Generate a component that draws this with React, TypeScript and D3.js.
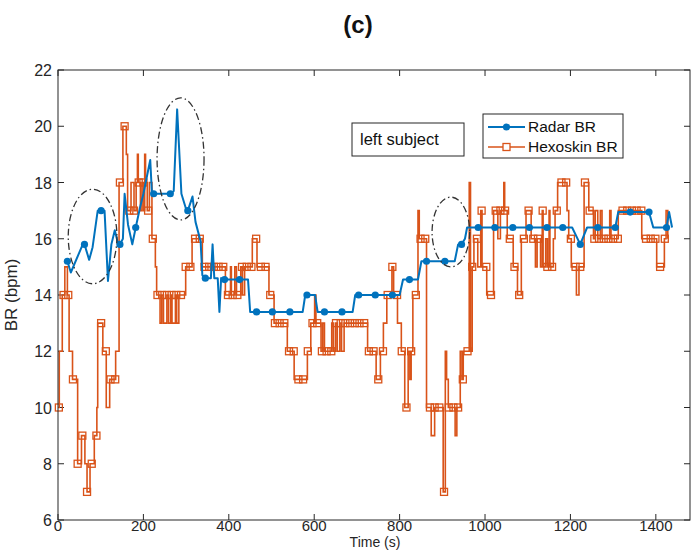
import React from "react";
import * as d3 from "d3";

const xTicks = [0, 200, 400, 600, 800, 1000, 1200, 1400];
const yTicks = [6, 8, 10, 12, 14, 16, 18, 20, 22];

const radarT = [22,30,58,62,73,81,93,101,109,117,125,133,141,145,152,156,164,174,182,192,200,216,220,224,263,271,279,289,299,304,315,322,334,338,345,358,362,366,374,378,382,390,425,445,450,465,502,543,573,579,583,602,608,624,665,690,696,704,743,783,800,808,823,843,851,863,906,929,937,945,953,958,984,1023,1065,1104,1145,1182,1204,1223,1239,1264,1305,1312,1340,1384,1394,1425,1431,1438];
const radarV = [15.2,14.8,15.8,15.8,15.25,15.7,17.0,17.0,17.0,14.5,15.8,16.3,15.8,15.8,16.0,17.6,16.5,15.8,16.4,17.1,17.6,18.8,17.6,17.6,17.6,17.7,20.6,17.6,17.1,17.0,17.5,16.6,15.9,14.7,14.6,14.6,15.8,14.6,14.6,13.4,14.6,14.55,14.55,14.55,13.4,13.4,13.4,13.4,13.4,14.0,14.0,14.0,13.4,13.4,13.4,13.4,14.0,14.0,14.0,14.0,14.0,14.55,14.55,14.55,15.2,15.2,15.2,15.2,15.8,15.8,16.0,16.4,16.4,16.4,16.4,16.4,16.4,16.4,16.4,15.8,16.4,16.4,16.4,16.95,16.95,16.95,16.4,16.4,16.95,16.4];
const radarMarkT = [22,62,101,145,182,224,263,304,345,390,425,465,502,543,583,624,665,704,743,783,823,863,906,945,984,1023,1065,1104,1145,1182,1223,1264,1305,1340,1384,1425];

const hexT = [0,3,10,16,22,26,34,46,55,63,68,75,85,91,93,105,113,121,135,143,152,160,163,171,178,183,186,188,193,197,201,203,205,209,214,220,228,231,239,243,247,255,259,264,267,275,278,283,299,314,338,392,404,406,414,418,428,432,437,455,466,494,506,537,553,584,592,601,604,616,620,624,641,645,650,654,660,664,670,725,745,755,762,770,782,786,795,804,812,820,824,827,831,843,846,863,874,882,902,907,910,914,930,934,942,946,949,963,966,970,974,983,990,993,1004,1020,1030,1036,1044,1046,1052,1066,1076,1085,1096,1108,1118,1122,1130,1134,1136,1142,1146,1150,1152,1160,1164,1170,1192,1196,1202,1214,1220,1232,1243,1254,1258,1264,1270,1274,1292,1295,1312,1339,1367,1402,1420,1424,1428];
const hexV = [10,12,14,15,14,12,11,8,9,8,7,8,9,10,13,12,10,11,12,18,20,19,17,18,17,18,19,18,17,18,17,19,18,17,18,16,15,14,13,14,13,14,13,14,13,14,13,14,15,16,15,14,15,14,15,14,15,14,15,16,15,14,13,12,11,12,13,14,13,12,13,12,13,12,13,12,13,12,13,12,11,12,13,14,15,14,13,12,10,12,11,12,14,17,16,10,9,10,7,12,11,10,9,10,12,11,12,18,12,15,16,15,17,15,14,17,16,17,18,17,16,15,14,16,17,16,15,16,15,17,15,16,15,17,15,16,17,18,17,16,15,14,15,18,17,16,17,16,17,16,17,16,17,17,16,15,16,17,16,16];
const hexMarkStep = 11;

// annotation ellipses: centre time, centre BR, half-width (s), half-height (bpm)
const ellCx = [81, 287, 920];
const ellCy = [16.08, 18.84, 16.24];
const ellRx = [57, 55, 44];
const ellRy = [1.68, 2.17, 1.24];

const BLUE = "#0072BD";
const ORANGE = "#D95319";
const AXC = "#262626";
const FONT = "'Liberation Sans', Arial, Helvetica, sans-serif";

export default function App() {
  const W = 697, H = 550;
  const L = 58, R = 690, T = 70, B = 520;
  const x = d3.scaleLinear().domain([0, 1480]).range([L, R]);
  const y = d3.scaleLinear().domain([6, 22]).range([B, T]);

  const radarPts = radarT.map((t, i) => [t, radarV[i]] as [number, number]);
  const hexPts = hexT.map((t, i) => [t, hexV[i]] as [number, number]);

  const radarLine = d3.line<[number, number]>().x(d => x(d[0])).y(d => y(d[1]));
  const hexLine = d3.line<[number, number]>().x(d => x(d[0])).y(d => y(d[1])).curve(d3.curveStepAfter);

  const radarMarks = radarPts.filter(p => radarMarkT.includes(p[0]));
  const hexMarks: [number, number][] = [];
  for (let t = 2; t <= hexT[hexT.length - 1]; t += hexMarkStep) {
    const i = d3.bisectRight(hexT, t) - 1;
    hexMarks.push([t, hexV[Math.max(0, i)]]);
  }

  const tl = 6;
  return (
    <svg width={W} height={H} style={{ position: "absolute", left: 0, top: 0, background: "#fff" }} fontFamily={FONT}>
      <rect x={0} y={0} width={W} height={H} fill="#fff" />
      <text x={358} y={33} textAnchor="middle" fontSize={24} fontWeight="bold" fill="#111">(c)</text>

      {/* ticks */}
      {xTicks.map(t => (
        <g key={"xt" + t}>
          <line x1={x(t)} x2={x(t)} y1={B} y2={B - tl} stroke={AXC} />
          <line x1={x(t)} x2={x(t)} y1={T} y2={T + tl} stroke={AXC} />
          <text x={x(t)} y={531} textAnchor="middle" fontSize={15} fill={AXC}>{t}</text>
        </g>
      ))}
      {yTicks.map(v => (
        <g key={"yt" + v}>
          <line x1={L} x2={L + tl} y1={y(v)} y2={y(v)} stroke={AXC} />
          <line x1={R} x2={R - tl} y1={y(v)} y2={y(v)} stroke={AXC} />
          <text x={L - 6} y={y(v) + 6} textAnchor="end" fontSize={16} fill={AXC}>{v}</text>
        </g>
      ))}
      <text x={(L + R) / 2 + 1} y={547} textAnchor="middle" fontSize={14} fill={AXC}>Time (s)</text>
      <text transform={`translate(17,${(T + B) / 2}) rotate(-90)`} textAnchor="middle" fontSize={17} fill={AXC}>BR (bpm)</text>

      {/* Hexoskin */}
      <path d={hexLine(hexPts) || ""} fill="none" stroke={ORANGE} strokeWidth={1.6} />
      {hexMarks.map((p, i) => (
        <rect key={"hm" + i} x={x(p[0]) - 3.5} y={y(p[1]) - 3.5} width={7} height={7} fill="none" stroke={ORANGE} strokeWidth={1.3} />
      ))}

      {/* Radar */}
      <path d={radarLine(radarPts) || ""} fill="none" stroke={BLUE} strokeWidth={2} strokeLinejoin="round" />
      {radarMarks.map((p, i) => (
        <circle key={"rm" + i} cx={x(p[0])} cy={y(p[1])} r={3.6} fill={BLUE} />
      ))}

      {/* ellipses */}
      {ellCx.map((c, i) => (
        <ellipse key={"el" + i} cx={x(c)} cy={y(ellCy[i])}
          rx={x(ellRx[i]) - x(0)} ry={y(0) - y(ellRy[i])}
          fill="none" stroke="#333" strokeWidth={1.3} strokeDasharray="7,3,1.5,3" />
      ))}

      {/* axes box */}
      <rect x={L} y={T} width={R - L} height={B - T} fill="none" stroke={AXC} strokeWidth={1} />

      {/* text annotation */}
      <rect x={352} y={123} width={112} height={33} fill="#fff" stroke={AXC} strokeWidth={1} />
      <text x={360} y={145} fontSize={16.5} fill="#111">left subject</text>

      {/* legend */}
      <rect x={483} y={114} width={140} height={44} fill="#fff" stroke={AXC} strokeWidth={1} />
      <line x1={488} x2={525} y1={127} y2={127} stroke={BLUE} strokeWidth={2} />
      <circle cx={506.5} cy={127} r={3.6} fill={BLUE} />
      <text x={528} y={132} fontSize={15.5} fill="#111">Radar BR</text>
      <line x1={488} x2={525} y1={147} y2={147} stroke={ORANGE} strokeWidth={1.6} />
      <rect x={503} y={143.5} width={7} height={7} fill="#fff" stroke={ORANGE} strokeWidth={1.3} />
      <text x={528} y={152} fontSize={15.5} fill="#111">Hexoskin BR</text>
    </svg>
  );
}
